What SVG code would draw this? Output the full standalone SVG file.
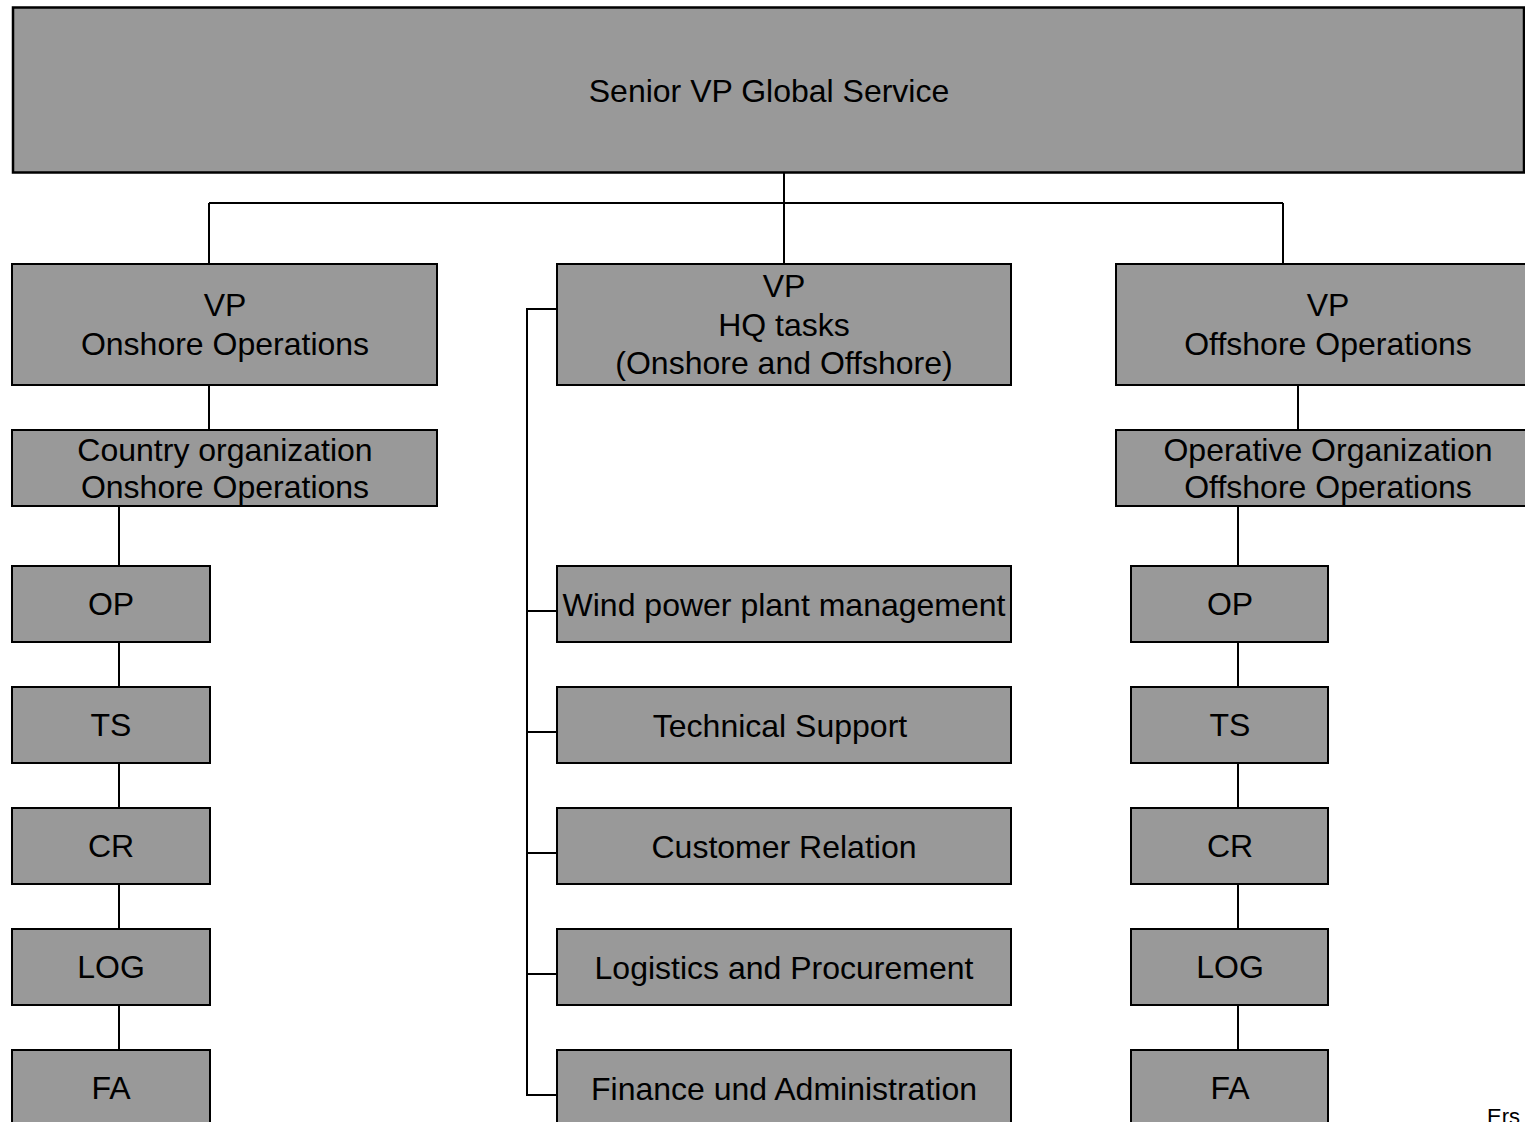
<svg xmlns="http://www.w3.org/2000/svg" width="1525" height="1122" viewBox="0 0 1525 1122">
<style>
.box{fill:#999999;stroke:#000;stroke-width:2}
.top{fill:#999999;stroke:#000;stroke-width:2.5}
.lbl{font-family:"Liberation Sans",Arial,sans-serif;font-size:32px;fill:#000;text-anchor:middle}
.con{fill:none;stroke:#000;stroke-width:2}
</style>
<rect width="1525" height="1122" fill="#fff"/>
<g id="connectors">
<path class="con" d="M784,173 V264 M209,203 H1283 M209,203 V264 M1283,203 V264"/>
<path class="con" d="M209,385 V430 M119,506 V566 M119,642 V687 M119,763 V808 M119,884 V929 M119,1005 V1050"/>
<path class="con" d="M557,309 H527 V1095 H557 M527,611 H557 M527,732 H557 M527,853 H557 M527,974 H557"/>
<path class="con" d="M1298,385 V430 M1238,506 V566 M1238,642 V687 M1238,763 V808 M1238,884 V929 M1238,1005 V1050"/>
</g>
<g id="senior"><rect class="top" x="13" y="7.5" width="1511" height="165"/><text class="lbl" x="769" y="102">Senior VP Global Service</text></g>
<g id="vp-onshore"><rect class="box" x="12" y="264" width="425" height="121"/><text class="lbl" x="225" y="316">VP</text><text class="lbl" x="225" y="355">Onshore Operations</text></g>
<g id="vp-hq"><rect class="box" x="557" y="264" width="454" height="121"/><text class="lbl" x="784" y="297">VP</text><text class="lbl" x="784" y="336">HQ tasks</text><text class="lbl" x="784" y="374">(Onshore and Offshore)</text></g>
<g id="vp-offshore"><rect class="box" x="1116" y="264" width="420" height="121"/><text class="lbl" x="1328" y="316">VP</text><text class="lbl" x="1328" y="355">Offshore Operations</text></g>
<g id="country-org"><rect class="box" x="12" y="430" width="425" height="76"/><text class="lbl" x="225" y="461">Country organization</text><text class="lbl" x="225" y="498">Onshore Operations</text></g>
<g id="operative-org"><rect class="box" x="1116" y="430" width="420" height="76"/><text class="lbl" x="1328" y="461">Operative Organization</text><text class="lbl" x="1328" y="498">Offshore Operations</text></g>
<g id="l-op"><rect class="box" x="12" y="566" width="198" height="76"/><text class="lbl" x="111" y="615">OP</text></g>
<g id="l-ts"><rect class="box" x="12" y="687" width="198" height="76"/><text class="lbl" x="111" y="736">TS</text></g>
<g id="l-cr"><rect class="box" x="12" y="808" width="198" height="76"/><text class="lbl" x="111" y="857">CR</text></g>
<g id="l-log"><rect class="box" x="12" y="929" width="198" height="76"/><text class="lbl" x="111" y="978">LOG</text></g>
<g id="l-fa"><rect class="box" x="12" y="1050" width="198" height="80"/><text class="lbl" x="111" y="1099">FA</text></g>
<g id="m-wind"><rect class="box" x="557" y="566" width="454" height="76"/><text class="lbl" x="784" y="616">Wind power plant management</text></g>
<g id="m-ts"><rect class="box" x="557" y="687" width="454" height="76"/><text class="lbl" x="780" y="737">Technical Support</text></g>
<g id="m-cr"><rect class="box" x="557" y="808" width="454" height="76"/><text class="lbl" x="784" y="858">Customer Relation</text></g>
<g id="m-log"><rect class="box" x="557" y="929" width="454" height="76"/><text class="lbl" x="784" y="979">Logistics and Procurement</text></g>
<g id="m-fa"><rect class="box" x="557" y="1050" width="454" height="80"/><text class="lbl" x="784" y="1100">Finance und Administration</text></g>
<g id="r-op"><rect class="box" x="1131" y="566" width="197" height="76"/><text class="lbl" x="1230" y="615">OP</text></g>
<g id="r-ts"><rect class="box" x="1131" y="687" width="197" height="76"/><text class="lbl" x="1230" y="736">TS</text></g>
<g id="r-cr"><rect class="box" x="1131" y="808" width="197" height="76"/><text class="lbl" x="1230" y="857">CR</text></g>
<g id="r-log"><rect class="box" x="1131" y="929" width="197" height="76"/><text class="lbl" x="1230" y="978">LOG</text></g>
<g id="r-fa"><rect class="box" x="1131" y="1050" width="197" height="80"/><text class="lbl" x="1230" y="1099">FA</text></g>
<text x="1487" y="1124" font-family="'Liberation Sans',Arial,sans-serif" font-size="22" fill="#000">Ers</text>
</svg>
